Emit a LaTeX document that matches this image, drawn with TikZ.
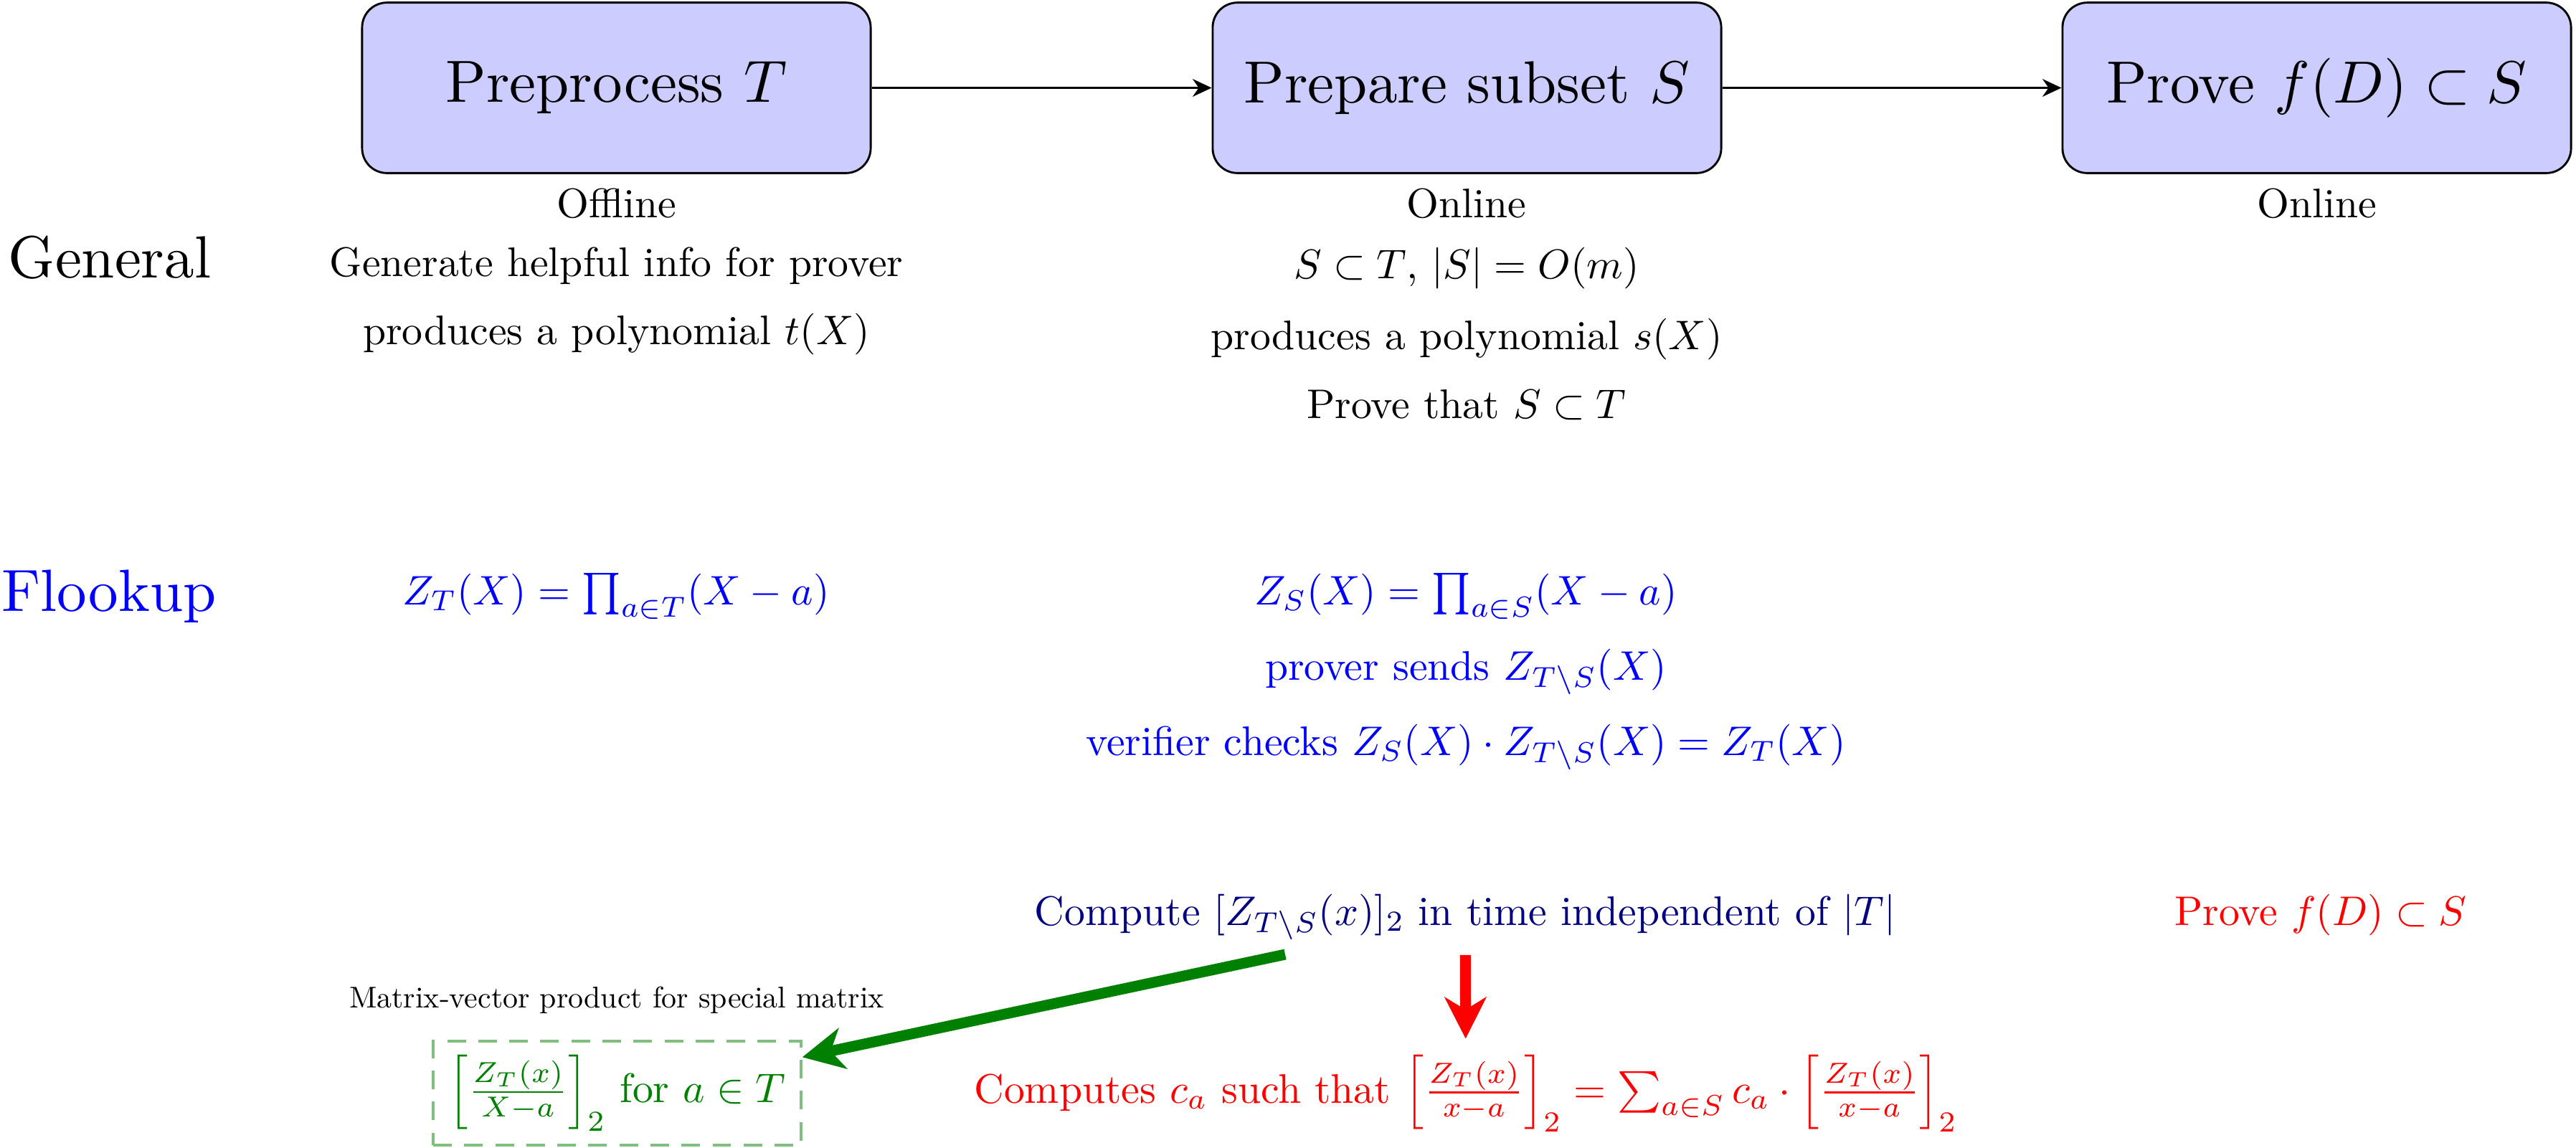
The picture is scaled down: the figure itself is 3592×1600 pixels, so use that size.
\documentclass[tikz,border=0pt]{standalone}
\usepackage{graphicx}
\usetikzlibrary{arrows.meta}
\definecolor{navy}{RGB}{0,0,128}
\definecolor{dgreen}{RGB}{0,128,0}
\definecolor{lgreen}{RGB}{128,191,128}
\definecolor{boxfill}{RGB}{204,204,255}
\newcommand{\bigtxt}[1]{\scalebox{1.44}{#1}}
\newcommand{\smalltxt}[1]{\scalebox{0.726}{#1}}
\tikzset{
  stage/.style={draw=black, line width=0.5pt, fill=boxfill, rounded corners=6pt,
    minimum width=122.9pt, minimum height=41.2pt, inner sep=0pt},
  lbl/.style={anchor=base, inner sep=0pt},
  flow/.style={-{Stealth[length=4.6pt,width=4.3pt]}, line width=0.4pt},
  bigarrow/.style={-{Stealth[length=10pt,width=10pt,inset=3pt]}, line width=2.6pt},
  mvbox/.style={draw=lgreen, dash pattern=on 4.5pt off 3pt, line width=0.6pt,
    minimum width=88.9pt, minimum height=25.1pt, inner sep=0pt, text=dgreen},
}
\begin{document}
\begin{tikzpicture}[x=0.17331pt, y=-0.17331pt]
\useasboundingbox (0,0) rectangle (3592,1600);
% stage boxes
\node[stage] (pre) at (859.5,122.5) {\bigtxt{Preprocess $T$}};
\node[stage] (prep) at (2045.5,122.5) {\bigtxt{Prepare subset $S$}};
\node[stage] (prove) at (3230.5,122.5) {\bigtxt{Prove $f(D)\subset S$}};
\draw[flow] (pre) -- (prep);
\draw[flow] (prep) -- (prove);
% General row
\node[lbl] (general) at (153,387) {\bigtxt{General}};
\node[lbl] (off) at (859.5,303) {Offline};
\node[lbl] (gen1) at (859.5,385) {Generate helpful info for prover};
\node[lbl] (gen2) at (859.5,480) {produces a polynomial $t(X)$};
\node[lbl] (on1) at (2045,303) {Online};
\node[lbl] (p1) at (2045,388) {$S \subset T$, $|S| = O(m)$};
\node[lbl] (p2) at (2045,487) {produces a polynomial $s(X)$};
\node[lbl] (p3) at (2045,583) {Prove that $S \subset T$};
\node[lbl] (on2) at (3230.5,303) {Online};
% Flookup row
\node[lbl, text=blue] (flookup) at (152,852) {\bigtxt{Flookup}};
\node[lbl, text=blue] (zt) at (859,843) {$Z_T(X) = \prod_{a\in T}(X-a)$};
\node[lbl, text=blue] (zs) at (2044,843) {$Z_S(X) = \prod_{a\in S}(X-a)$};
\node[lbl, text=blue] (send) at (2044,948) {prover sends $Z_{T\setminus S}(X)$};
\node[lbl, text=blue] (check) at (2044,1053) {verifier checks $Z_S(X)\cdot Z_{T\setminus S}(X) = Z_T(X)$};
% bottom row
\node[lbl, text=navy] (compute) at (2043,1290) {Compute $[Z_{T\setminus S}(x)]_2$ in time independent of $|T|$};
\node[lbl, text=red] (provered) at (3236,1290) {Prove $f(D)\subset S$};
\node[lbl] (mvt) at (860,1405) {\smalltxt{Matrix-vector product for special matrix}};
\node[mvbox] (mv) at (860.5,1524.5) {$\left[\frac{Z_T(x)}{X-a}\right]_2$ for $a\in T$};
\node[lbl, text=red] (computes) at (2044,1538) {Computes $c_a$ such that $\left[\frac{Z_T(x)}{x-a}\right]_2 = \sum_{a\in S} c_a\cdot\left[\frac{Z_T(x)}{x-a}\right]_2$};
\coordinate (gstart) at (1792,1331);
\draw[bigarrow, dgreen] (gstart) -- (mv.11);
\draw[bigarrow, red, shorten <=3.5pt, shorten >=3.8pt] (compute) -- (computes);
\end{tikzpicture}
\end{document}
